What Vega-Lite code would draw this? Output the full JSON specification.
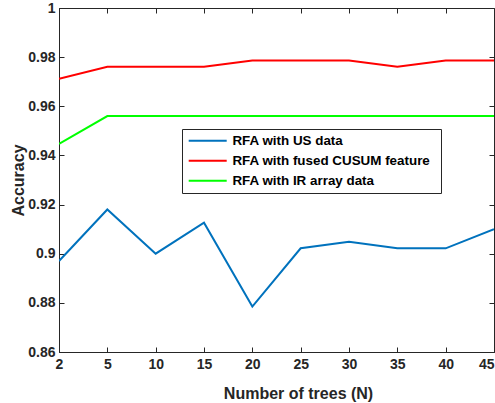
{
  "$schema": "https://vega.github.io/schema/vega-lite/v6.json",
  "width": 435,
  "height": 344,
  "autosize": {"type": "none"},
  "padding": {"left": 59, "top": 8, "right": 1, "bottom": 51},
  "background": "white",
  "config": {
    "view": {"stroke": "#262626", "strokeWidth": 1},
    "font": "Liberation Sans",
    "axis": {
      "labelFont": "Liberation Sans", "labelFontWeight": "bold", "labelFontSize": 14, "labelColor": "#262626",
      "titleFont": "Liberation Sans", "titleFontWeight": "bold", "titleFontSize": 16, "titleColor": "#262626",
      "domainColor": "#262626", "tickColor": "#262626", "grid": false, "tickSize": -5
    }
  },
  "data": {"values": [
    {"N": 2, "series": "RFA with US data", "acc": 0.897},
    {"N": 5, "series": "RFA with US data", "acc": 0.918},
    {"N": 10, "series": "RFA with US data", "acc": 0.900},
    {"N": 15, "series": "RFA with US data", "acc": 0.9126},
    {"N": 20, "series": "RFA with US data", "acc": 0.8785},
    {"N": 25, "series": "RFA with US data", "acc": 0.9022},
    {"N": 30, "series": "RFA with US data", "acc": 0.9049},
    {"N": 35, "series": "RFA with US data", "acc": 0.9022},
    {"N": 40, "series": "RFA with US data", "acc": 0.9022},
    {"N": 45, "series": "RFA with US data", "acc": 0.910},
    {"N": 2, "series": "RFA with fused CUSUM feature", "acc": 0.9712},
    {"N": 5, "series": "RFA with fused CUSUM feature", "acc": 0.9761},
    {"N": 10, "series": "RFA with fused CUSUM feature", "acc": 0.9761},
    {"N": 15, "series": "RFA with fused CUSUM feature", "acc": 0.9761},
    {"N": 20, "series": "RFA with fused CUSUM feature", "acc": 0.9786},
    {"N": 25, "series": "RFA with fused CUSUM feature", "acc": 0.9786},
    {"N": 30, "series": "RFA with fused CUSUM feature", "acc": 0.9786},
    {"N": 35, "series": "RFA with fused CUSUM feature", "acc": 0.9761},
    {"N": 40, "series": "RFA with fused CUSUM feature", "acc": 0.9786},
    {"N": 45, "series": "RFA with fused CUSUM feature", "acc": 0.9786},
    {"N": 2, "series": "RFA with IR array data", "acc": 0.9447},
    {"N": 5, "series": "RFA with IR array data", "acc": 0.956},
    {"N": 10, "series": "RFA with IR array data", "acc": 0.956},
    {"N": 15, "series": "RFA with IR array data", "acc": 0.956},
    {"N": 20, "series": "RFA with IR array data", "acc": 0.956},
    {"N": 25, "series": "RFA with IR array data", "acc": 0.956},
    {"N": 30, "series": "RFA with IR array data", "acc": 0.956},
    {"N": 35, "series": "RFA with IR array data", "acc": 0.956},
    {"N": 40, "series": "RFA with IR array data", "acc": 0.956},
    {"N": 45, "series": "RFA with IR array data", "acc": 0.956}
  ]},
  "layer": [
    {
      "mark": {"type": "line", "strokeWidth": 2, "clip": true},
      "encoding": {
        "x": {"field": "N", "type": "ordinal",
          "scale": {"type": "point", "padding": 0, "domain": [2, 5, 10, 15, 20, 25, 30, 35, 40, 45]},
          "axis": {"orient": "bottom", "labelAngle": 0, "title": "Number of trees (N)", "labelPadding": 10,
            "labelAlign": {"expr": "datum.value == 45 ? 'right' : 'center'"},
            "titleX": 239, "titleY": 41, "titleAlign": "center", "titleBaseline": "middle"}},
        "y": {"field": "acc", "type": "quantitative",
          "scale": {"domain": [0.86, 1], "nice": false, "zero": false},
          "axis": {"values": [0.86, 0.88, 0.9, 0.92, 0.94, 0.96, 0.98, 1], "format": "~g", "title": "Accuracy", "labelPadding": 9, "titleX": -41, "titleBaseline": "middle"}},
        "color": {"field": "series", "type": "nominal",
          "scale": {"domain": ["RFA with US data", "RFA with fused CUSUM feature", "RFA with IR array data"], "range": ["#0072BD", "#FF0000", "#00FF00"]},
          "legend": {"orient": "none", "legendX": 123, "legendY": 121, "title": "\u00a0", "titleOrient": "right", "titleFontSize": 8, "titlePadding": 6,
            "symbolType": "M-1,0H6.6", "symbolSize": 100, "symbolStrokeWidth": 2,
            "labelFont": "Liberation Sans", "labelFontSize": 13.4, "labelFontWeight": "bold", "labelColor": "black", "labelOffset": 32, "labelLimit": 300,
            "strokeColor": "#262626", "fillColor": "white", "padding": 5, "rowPadding": 5, "offset": 0}}
      }
    },
    {
      "mark": {"type": "line", "opacity": 0},
      "encoding": {
        "x": {"field": "N", "type": "ordinal",
          "scale": {"type": "point", "padding": 0, "domain": [2, 5, 10, 15, 20, 25, 30, 35, 40, 45]},
          "axis": {"orient": "top", "labels": false, "title": null, "domain": false}},
        "y": {"field": "acc", "type": "quantitative",
          "scale": {"domain": [0.86, 1], "nice": false, "zero": false},
          "axis": {"orient": "right", "values": [0.86, 0.88, 0.9, 0.92, 0.94, 0.96, 0.98, 1], "labels": false, "title": null, "domain": false}},
        "detail": {"field": "series"}
      }
    }
  ],
  "resolve": {"axis": {"x": "independent", "y": "independent"}}
}
